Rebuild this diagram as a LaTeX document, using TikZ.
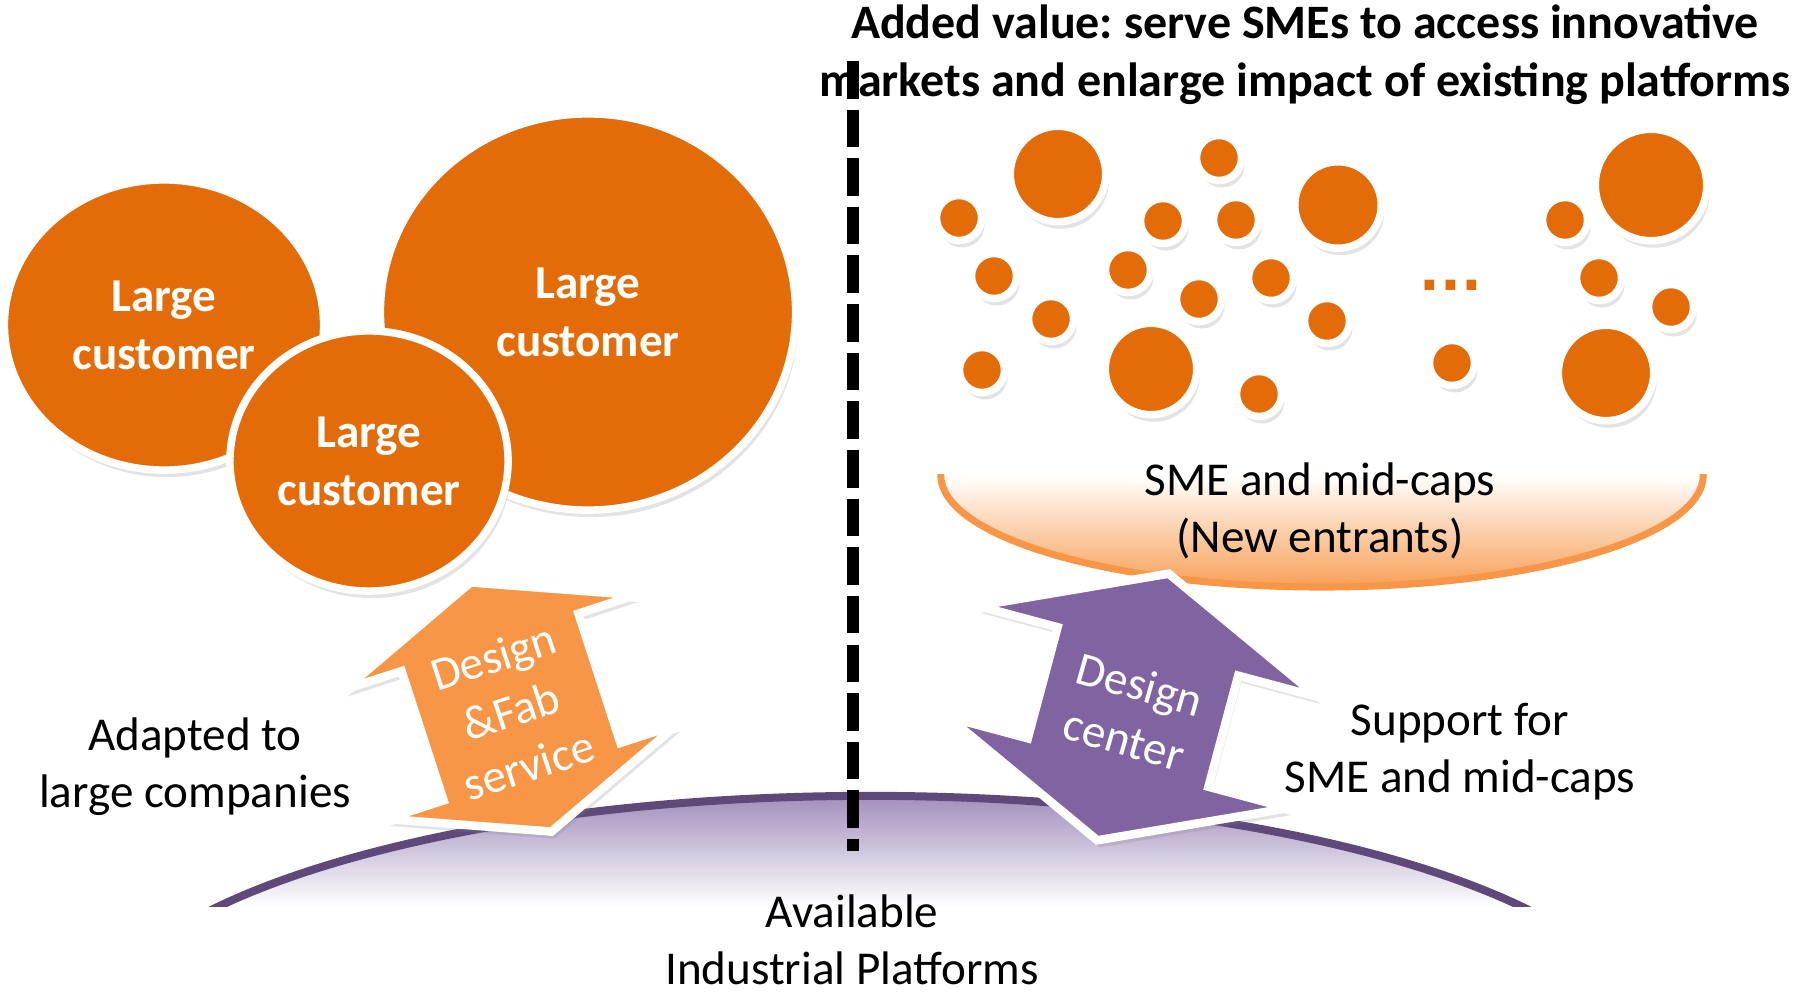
\documentclass[tikz,border=0pt]{standalone}
\usepackage{fontspec}
\setmainfont{Carlito}
\newfontfamily\dotfont{DejaVu Sans}
\frenchspacing
\usetikzlibrary{shapes.geometric,shadows}
\definecolor{cOrg}{HTML}{E36C09}
\definecolor{cOrgL}{HTML}{F79646}
\definecolor{cOrgF}{HTML}{F79D52}
\definecolor{cPur}{HTML}{8064A2}
\definecolor{cPurD}{HTML}{5F497A}
\definecolor{cPurL}{HTML}{9E8BBA}
\tikzstyle{styShadow}=[drop shadow={opacity=0.22,shadow xshift=0.03cm,shadow yshift=-0.07cm}]
\tikzstyle{styBig}=[ellipse,fill=cOrg,draw=white,line width=0.075cm,inner sep=0,text=white,align=center,font=\fontsize{13.4}{16.5}\selectfont\bfseries,styShadow]
\tikzstyle{styDot}=[circle,fill=cOrg,draw=white,line width=0.075cm,inner sep=0,minimum size=0.45cm,styShadow]
\tikzstyle{styArr}=[draw=white,line width=0.085cm,line join=miter,styShadow]
\tikzstyle{styTxt}=[align=center,inner sep=0,font=\fontsize{13.4}{16.2}\selectfont]
\tikzstyle{styArrTxt}=[styTxt,text=white]
\tikzstyle{myline}=[line width=0.126cm,dash pattern=on 0.375cm off 0.111cm]

\begin{document}
\begin{tikzpicture}[x=0.01cm,y=-0.01cm]
\useasboundingbox (0,0) rectangle (1800,992);
\fill[white] (0,0) rectangle (1800,992);

% platforms at the bottom
\begin{scope}
\clip (870,1043) ellipse [x radius=7.81cm,y radius=2.47cm];
\shade[top color=cPurL,bottom color=white] (60,792) rectangle (1680,907);
\end{scope}
\begin{scope}
\clip (0,0) rectangle (1800,907);
\draw[cPurD,line width=0.08cm] (870,1043) ellipse [x radius=7.81cm,y radius=2.47cm];
\end{scope}

% bowl of new entrants
\begin{scope}
\clip (1322,475) ellipse [x radius=3.81cm,y radius=1.12cm];
\shade[top color=white,bottom color=cOrgF] (930,475) rectangle (1710,590);
\end{scope}
\begin{scope}
\clip (900,475) rectangle (1750,620);
\draw[cOrgL,line width=0.07cm] (1322,475) ellipse [x radius=3.81cm,y radius=1.12cm];
\end{scope}

% large customers
\node[styBig,minimum width=3.19cm,minimum height=2.90cm] (cusLeft) at (164,325) {Large\\customer};
\node[styBig,minimum width=4.15cm,minimum height=3.96cm] (cusRight) at (588,312) {Large\\customer};
\node[styBig,minimum width=2.78cm,minimum height=2.60cm] (cusMid) at (369,461) {Large\\customer};

% SMEs
\node[styDot,minimum size=0.954cm] (sme1) at (1058,174) {};
\node[styDot] (sme2) at (1219,158) {};
\node[styDot] (sme3) at (959,218) {};
\node[styDot] (sme4) at (1163,221) {};
\node[styDot] (sme5) at (1236,220) {};
\node[styDot,minimum size=0.864cm] (sme6) at (1338,205) {};
\node[styDot] (sme7) at (994,276) {};
\node[styDot] (sme8) at (1128,270) {};
\node[styDot] (sme9) at (1271,278) {};
\node[styDot] (sme10) at (1199,299) {};
\node[styDot] (sme11) at (1051,319) {};
\node[styDot] (sme12) at (1327,321) {};
\node[styDot] (sme13) at (982,370) {};
\node[styDot,minimum size=0.914cm] (sme14) at (1151,369) {};
\node[styDot] (sme15) at (1259,394) {};
\node[styDot,minimum size=1.114cm] (sme16) at (1651,185) {};
\node[styDot] (sme17) at (1565,220) {};
\node[styDot] (sme18) at (1599,278) {};
\node[styDot] (sme19) at (1671,307) {};
\node[styDot] (sme20) at (1452,363) {};
\node[styDot,minimum size=0.954cm] (sme21) at (1606,373) {};
\node[text=cOrg,inner sep=0,font=\dotfont\fontsize{15.5}{15.5}\selectfont\bfseries] (smeMore) at (1451,285) {...};

% up-down arrows
\begin{scope}[shift={(511,707)},rotate=18]
\path[styArr,fill=cOrgL] (0,-131) -- (153,-68) -- (93,-68) -- (93,68) -- (153,68) -- (0,131)
  -- (-153,68) -- (-93,68) -- (-93,-68) -- (-153,-68) -- cycle;
\end{scope}
\node[styArrTxt,rotate=18] (txtFab) at (511,711) {Design\\\&Fab\\service};
\begin{scope}[shift={(1133,707)},rotate=-15]
\path[styArr,fill=cPur] (0,-138) -- (176,-57.5) -- (93.5,-57.5) -- (93.5,57.5) -- (176,57.5) -- (0,138)
  -- (-176,57.5) -- (-93.5,57.5) -- (-93.5,-57.5) -- (-176,-57.5) -- cycle;
\end{scope}
\node[styArrTxt,rotate=-16] (txtCenter) at (1132,712) {Design\\center};

% labels
\node[styTxt] (lblLarge) at (195,767) {Adapted to\\large companies};
\node[styTxt] (lblSupport) at (1460,752) {Support for\\SME and mid-caps};
\node[styTxt] (lblSme) at (1320,511) {SME and mid-caps\\(New entrants)};
\node[styTxt] (lblPlat) at (852,940) {Available\\Industrial Platforms};
\node[styTxt,font=\fontsize{13.65}{16.5}\selectfont\bfseries] (title) at (1305,55)
  {Added value: serve SMEs to access innovative\\markets and enlarge impact of existing platforms};

% separator
\coordinate (sepTop) at (853,61);
\coordinate (sepBot) at (853,851);
\draw[myline] (sepTop) -- (sepBot);

\end{tikzpicture}
\end{document}
